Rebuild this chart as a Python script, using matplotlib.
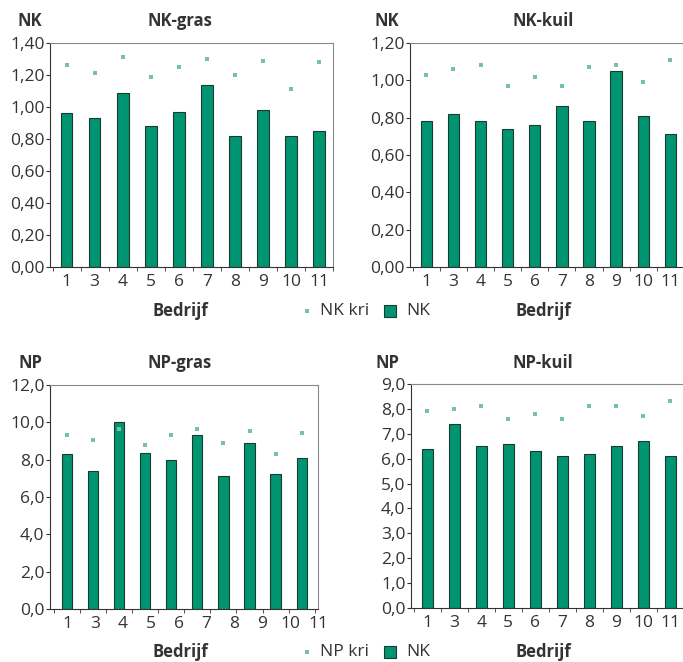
import matplotlib
matplotlib.use("Agg")
import matplotlib.pyplot as plt
from matplotlib.ticker import FuncFormatter

plt.rcParams['font.family'] = ['Open Sans', 'DejaVu Sans']

# data
bedrijf = ['1', '3', '4', '5', '6', '7', '8', '9', '10', '11']

nk_gras = [0.96, 0.93, 1.09, 0.88, 0.97, 1.14, 0.82, 0.98, 0.82, 0.85]
nk_gras_kri = [1.26, 1.21, 1.31, 1.19, 1.25, 1.30, 1.20, 1.29, 1.11, 1.28]

nk_kuil = [0.78, 0.82, 0.78, 0.74, 0.76, 0.86, 0.78, 1.05, 0.81, 0.71]
nk_kuil_kri = [1.03, 1.06, 1.08, 0.97, 1.02, 0.97, 1.07, 1.08, 0.99, 1.11]

np_gras = [8.3, 7.4, 10.0, 8.35, 8.0, 9.3, 7.1, 8.9, 7.25, 8.1]
np_gras_kri = [9.3, 9.05, 9.65, 8.8, 9.3, 9.65, 8.9, 9.55, 8.3, 9.45]

np_kuil = [6.4, 7.4, 6.5, 6.6, 6.3, 6.1, 6.2, 6.5, 6.7, 6.1]
np_kuil_kri = [7.9, 8.0, 8.1, 7.6, 7.8, 7.6, 8.1, 8.1, 7.7, 8.3]

BAR = '#009470'
KRI = '#72c4a4'
TXT = '#333333'

W, H = 683, 662
fig = plt.figure(figsize=(W / 100, H / 100), dpi=100)


def px_axes(left, top, right, bottom):
    return fig.add_axes([left / W, 1 - bottom / H, (right - left) / W, (bottom - top) / H])


def draw(ax, vals, kri, ymax, step, fmt, xlim, bw, label_stretch=1.0, right_spine=True):
    x = list(range(len(vals)))
    ax.bar(x, vals, width=bw, color=BAR, edgecolor='#1a3a30', linewidth=0.8, zorder=2)
    ax.plot(x, kri, linestyle='none', marker='s', markersize=2.8,
            color=KRI, markeredgewidth=0, zorder=3)
    ax.set_xlim(*xlim)
    ax.set_ylim(0, ymax)
    n = int(round(ymax / step))
    ax.set_yticks([i * step for i in range(n + 1)])
    ax.yaxis.set_major_formatter(FuncFormatter(lambda v, p: fmt.format(v).replace('.', ',')))
    ax.set_xticks([i * label_stretch for i in x])
    ax.set_xticklabels(bedrijf)
    ax.set_xticks([i - 0.5 for i in x] + [len(x) - 0.5], minor=True)
    ax.tick_params(axis='x', which='major', length=0, pad=5, labelsize=12.5, labelcolor=TXT)
    ax.tick_params(axis='x', which='minor', length=3, direction='out', color=TXT)
    ax.tick_params(axis='y', length=3, direction='out', pad=1, labelsize=12.5,
                   labelcolor=TXT, color=TXT)
    ax.spines['left'].set_color(TXT)
    ax.spines['bottom'].set_color(TXT)
    ax.spines['top'].set_color('#888888')
    ax.spines['right'].set_color('#888888')
    ax.spines['right'].set_visible(right_spine)
    ax.set_facecolor('white')


ax1 = px_axes(50, 43, 333, 267)
draw(ax1, nk_gras, nk_gras_kri, 1.40, 0.20, '{:.2f}', (-0.59, 9.49), 0.42)

ax2 = px_axes(410, 43, 684, 267)
draw(ax2, nk_kuil, nk_kuil_kri, 1.20, 0.20, '{:.2f}', (-0.6, 9.5), 0.42, right_spine=False)

ax3 = px_axes(50, 385, 318, 609)
draw(ax3, np_gras, np_gras_kri, 12.0, 2.0, '{:.1f}', (-0.66, 9.52), 0.39, label_stretch=1.07)

ax4 = px_axes(411, 384, 684, 608)
draw(ax4, np_kuil, np_kuil_kri, 9.0, 1.0, '{:.1f}', (-0.6, 9.5), 0.42, right_spine=False)


def ftext(x, y, s, **kw):
    fig.text(x / W, 1 - y / H, s, ha='center', va='center', color=TXT, **kw)


bold = dict(fontsize=12, fontweight='bold')
ftext(30, 21, 'NK', **bold)
ftext(180, 21, 'NK-gras', **bold)
ftext(387, 21, 'NK', **bold)
ftext(543, 21, 'NK-kuil', **bold)
ftext(30, 363, 'NP', **bold)
ftext(180, 363, 'NP-gras', **bold)
ftext(387, 363, 'NP', **bold)
ftext(543, 363, 'NP-kuil', **bold)

ftext(180, 311, 'Bedrijf', **bold)
ftext(543, 311, 'Bedrijf', **bold)
ftext(180, 652, 'Bedrijf', **bold)
ftext(543, 652, 'Bedrijf', **bold)

# legends
for ly, lab in [(311, 'NK kri'), (652, 'NP kri')]:
    fig.lines.append(plt.Line2D([307 / W], [1 - ly / H], transform=fig.transFigure,
                                marker='s', markersize=2.8, color=KRI, markeredgewidth=0,
                                linestyle='none'))
    fig.text(320 / W, 1 - ly / H, lab, ha='left', va='center', color=TXT, fontsize=12.5)
    fig.patches.append(plt.Rectangle((384 / W, 1 - (ly + 6) / H), 12 / W, 12 / H,
                                     transform=fig.transFigure, facecolor=BAR,
                                     edgecolor='#1a3a30', linewidth=0.8))
    fig.text(406 / W, 1 - ly / H, 'NK', ha='left', va='center', color=TXT, fontsize=12.5)

fig.savefig('out.png', dpi=100)
